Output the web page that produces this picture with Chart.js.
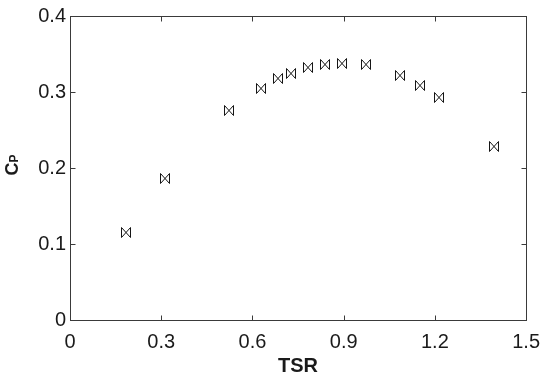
<!DOCTYPE html>
<html>
<head>
<meta charset="utf-8">
<script src="https://cdn.jsdelivr.net/npm/chart.js@4/dist/chart.umd.min.js"></script>
<style>
  html, body { margin: 0; padding: 0; background: #fff; }
  #wrap { width: 550px; height: 379px; position: relative; }
</style>
</head>
<body>
<div id="wrap"><canvas id="c" width="550" height="379"></canvas></div>
<script>
// ---- data ----
const tsr = [0.185, 0.311, 0.524, 0.627, 0.685, 0.728, 0.784, 0.839, 0.893, 0.975, 1.084, 1.151, 1.215, 1.395];
const cp  = [0.1145, 0.186, 0.276, 0.305, 0.318, 0.325, 0.332, 0.336, 0.3375, 0.336, 0.322, 0.309, 0.293, 0.228];
const xTicks = [0, 0.3, 0.6, 0.9, 1.2, 1.5];
const yTicks = [0, 0.1, 0.2, 0.3, 0.4];
const xTitle = 'TSR';
const yTitleMain = 'C';
const yTitleSub = 'P';

const FONT = "'Liberation Sans', Arial, sans-serif";
const INK = '#1a1a1a';
const BOX = '#3a3a3a';

// bow-tie marker (MATLAB-like hourglass on its side)
function makeMarker() {
  const w = 10, h = 11;
  const c = document.createElement('canvas');
  c.width = w; c.height = h;
  const g = c.getContext('2d');
  g.strokeStyle = '#151515';
  g.lineWidth = 1;
  g.beginPath();
  g.moveTo(0.5, 0.5); g.lineTo(0.5, 10.5);
  g.moveTo(9.5, 0.5); g.lineTo(9.5, 10.5);
  g.moveTo(0.5, 0.5); g.lineTo(9.5, 10.5);
  g.moveTo(0.5, 10.5); g.lineTo(9.5, 0.5);
  g.stroke();
  return c;
}
const marker = makeMarker();

const points = tsr.map((x, i) => ({ x: x, y: cp[i] }));

const crispPlugin = {
  id: 'crisp',
  beforeDatasetsDraw(chart) { chart.ctx.save(); chart.ctx.imageSmoothingEnabled = false; },
  afterDatasetsDraw(chart) { chart.ctx.restore(); }
};

const boxPlugin = {
  id: 'boxAndTicks',
  afterDraw(chart) {
    const { ctx, chartArea: a, scales } = chart;
    ctx.save();
    ctx.strokeStyle = BOX;
    ctx.lineWidth = 1;
    const L = Math.round(a.left) + 0.5, R = Math.round(a.right) + 0.5;
    const T = Math.round(a.top) + 0.5, B = Math.round(a.bottom) + 0.5;
    ctx.strokeRect(L, T, R - L, B - T);
    const tl = 5;
    ctx.beginPath();
    xTicks.forEach(v => {
      const px = Math.round(scales.x.getPixelForValue(v)) + 0.5;
      if (px <= L + 1 || px >= R - 1) return;
      ctx.moveTo(px, B); ctx.lineTo(px, B - tl);
      ctx.moveTo(px, T); ctx.lineTo(px, T + tl);
    });
    yTicks.forEach(v => {
      const py = Math.round(scales.y.getPixelForValue(v)) + 0.5;
      if (py <= T + 1 || py >= B - 1) return;
      ctx.moveTo(L, py); ctx.lineTo(L + tl, py);
      ctx.moveTo(R, py); ctx.lineTo(R - tl, py);
    });
    ctx.stroke();

    // y-axis title C with subscript P, rotated
    const cy = (a.top + a.bottom) / 2 - 3;
    ctx.translate(18, cy);
    ctx.rotate(-Math.PI / 2);
    ctx.fillStyle = INK;
    ctx.textBaseline = 'alphabetic';
    ctx.font = 'bold 18px ' + FONT;
    const wC = ctx.measureText(yTitleMain).width;
    ctx.font = 'bold 12px ' + FONT;
    const wP = ctx.measureText(yTitleSub).width;
    const total = wC + wP;
    ctx.font = 'bold 18px ' + FONT;
    ctx.textAlign = 'left';
    ctx.fillText(yTitleMain, -total / 2, 0);
    ctx.font = 'bold 12px ' + FONT;
    ctx.fillText(yTitleSub, -total / 2 + wC, 0);
    ctx.restore();
  }
};

const fmt = v => String(Number(Number(v).toFixed(2)));

new Chart(document.getElementById('c'), {
  type: 'scatter',
  data: {
    datasets: [{
      data: points,
      pointStyle: marker,
      pointRadius: 5,
      showLine: false
    }]
  },
  options: {
    responsive: false,
    animation: false,
    devicePixelRatio: 1,
    layout: { padding: { top: 15, right: 20, left: 0, bottom: 0 } },
    plugins: { legend: { display: false }, tooltip: { enabled: false } },
    scales: {
      x: {
        type: 'linear', min: 0, max: 1.5,
        afterBuildTicks: s => { s.ticks = xTicks.map(v => ({ value: v })); },
        afterFit: s => { s.height = 59; },
        grid: { display: false, drawTicks: false },
        border: { display: false },
        ticks: { color: INK, font: { family: FONT, size: 20 }, padding: 10, maxRotation: 0, callback: fmt },
        title: { display: true, text: xTitle, color: INK, font: { family: FONT, size: 20, weight: 'bold' }, padding: { top: 0, bottom: 1 } }
      },
      y: {
        type: 'linear', min: 0, max: 0.4,
        afterBuildTicks: s => { s.ticks = yTicks.map(v => ({ value: v })); },
        afterFit: s => { s.width = 70; },
        grid: { display: false, drawTicks: false },
        border: { display: false },
        ticks: { color: INK, font: { family: FONT, size: 20 }, padding: 4, callback: fmt }
      }
    }
  },
  plugins: [crispPlugin, boxPlugin]
});
</script>
</body>
</html>
